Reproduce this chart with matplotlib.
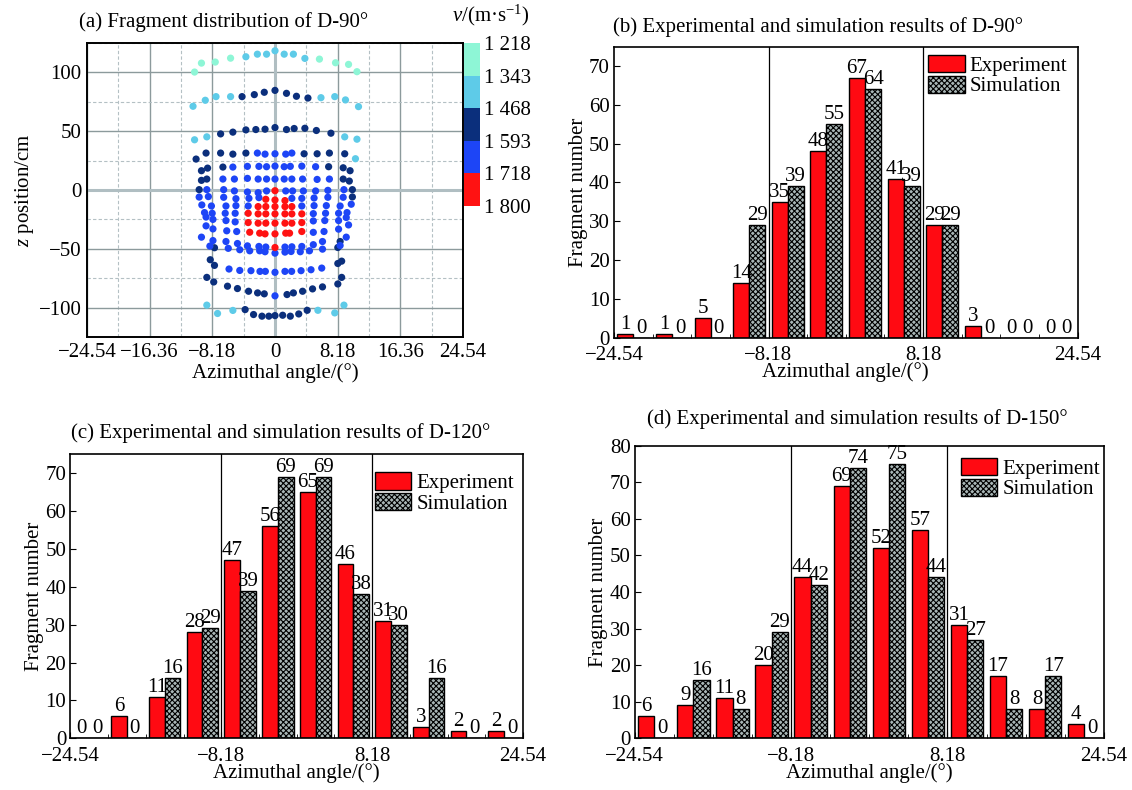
import numpy as np
import matplotlib
matplotlib.use("Agg")
import matplotlib.pyplot as plt
from matplotlib.colors import ListedColormap, BoundaryNorm
from matplotlib.colorbar import ColorbarBase
from matplotlib.ticker import MultipleLocator, FixedLocator

plt.rcParams['font.family'] = ['Liberation Serif', 'DejaVu Serif']
plt.rcParams['font.size'] = 15
plt.rcParams['mathtext.fontset'] = 'custom'
plt.rcParams['mathtext.rm'] = 'Liberation Serif'
plt.rcParams['mathtext.it'] = 'Liberation Serif:italic'
plt.rcParams['hatch.linewidth'] = 0.8
plt.rcParams['hatch.color'] = '#1a1a1a'

# ---- (a) fragment positions (azimuth deg, z cm), grouped by velocity band ----
pts_1218 = [(-10.5, 100.3), (-9.6, 107.9), (-7.8, 108.8), (-5.8, 112.1),
            (5.8, 111.3), (7.9, 108.2), (9.6, 106.8), (10.7, 100.6)]
pts_1343 = [(-3.8, 113.3), (-2.3, 115.5), (-1.1, 115.5), (0, 118.4), (1.2, 115.5), (2.4, 115.5), (3.9, 111.9),
            (-10.7, 71.2), (-9.1, 76.3), (-7.7, 79.4), (-5.8, 79.4), (6.0, 78.5), (7.8, 79.4), (9.2, 76.6), (10.9, 70.9),
            (-10.5, 42.7), (-8.9, 45.2), (9.1, 45.2), (10.7, 43.2), (10.5, 26.6),
            (-8.9, -97.9), (-7.5, -105), (-5.5, -102.4), (5.6, -102.3), (7.8, -104.5), (9.0, -97.9)]
pts_1468 = [(-4.3, 79.4), (-2.7, 81.1), (-1.4, 83.1), (0, 84.7), (1.5, 82.2), (2.8, 79.7), (4.3, 78.2),
            (-7.1, 47.7), (-5.5, 49.2), (-3.8, 51.1), (-2.5, 51.4), (-1.3, 51.7), (0, 53.1), (1.5, 51.4),
            (2.5, 52.3), (3.9, 52.5), (5.4, 50.6), (7.3, 48.3),
            (-10.3, 26.3), (-9.0, 31.4), (-7.1, 31.4), (-5.5, 30.5), (-3.8, 31.4), (3.8, 30.8), (5.5, 30.8),
            (7.1, 31.4), (9.1, 30.8),
            (-9.6, 16.4), (-8.8, 18.6), (-6.8, 19.5), (7.0, 19.8), (8.9, 18.9), (9.8, 16.4),
            (-9.6, 8.2), (-8.9, 9.3), (8.9, 9.3), (9.7, 7.6),
            (-9.9, 0.3), (10.1, 0.3), (10.1, -5.9),
            (-7.9, -49.1), (8.5, -43.8), (8.2, -48.9),
            (-8.45, -59.3), (-7.9, -64.1), (8.7, -60.5), (8.2, -62.5),
            (-8.9, -74.3), (-8.0, -78.2), (-6.2, -81.8), (-4.9, -83.8), (-3.45, -86.1), (-2.27, -87.5),
            (-1.4, -88.3), (1.57, -88.9), (2.4, -87.5), (3.6, -86.1), (4.9, -84.1), (6.2, -82.4),
            (8.2, -79.9), (8.7, -74.3),
            (-3.9, -101.7), (-2.8, -105.9), (-1.7, -107.3), (-0.8, -107.3), (0, -106.8), (1.0, -106.5),
            (2.0, -107.3), (3.1, -105.4), (4.2, -102.3)]
pts_1593 = [(-2.3, 31.4), (-1.3, 30.5), (0, 30.8), (1.4, 30.5), (2.2, 31.4),
            (-5.5, 19.5), (-3.6, 20.1), (-2.1, 20.1), (-1.1, 19.8), (0, 20.3), (1.2, 19.8), (2.0, 20.1),
            (3.5, 20.3), (5.3, 19.8),
            (-6.8, 9.3), (-5.3, 9.3), (-3.6, 9.9), (-2.2, 9.3), (-1.1, 9.3), (0, 9.3), (1.2, 9.3), (2.2, 9.3),
            (3.6, 9.3), (5.5, 9.0), (7.1, 9.3),
            (-8.9, 0.3), (-6.7, 0.3), (-5.3, -0.8), (-3.6, -1.7), (-2.2, -2.3), (-1.1, -0.8), (1.4, -0.8),
            (2.3, -0.8), (3.7, -0.8), (5.3, -0.8), (6.9, -0.3), (9.0, 0.3),
            (-9.9, -6.0), (-8.7, -5.6), (-6.7, -6.2), (-5.1, -7.4), (-3.4, -7.1), (-2.1, -6.5), (2.2, -7.1),
            (3.5, -7.1), (5.1, -6.8), (6.9, -6.2), (8.9, -6.2),
            (-9.55, -12.7), (-8.3, -13.6), (-6.4, -13.6), (-5.1, -13.3), (-3.5, -13.6), (3.5, -13.6),
            (5.1, -13.3), (6.7, -13.3), (8.5, -13.6), (9.95, -12.1),
            (-9.2, -19.2), (-8.2, -19.8), (-6.5, -19.8), (-5.2, -19.8), (5.0, -20.1), (6.6, -19.8),
            (8.3, -19.8), (9.4, -19.2), (-9.0, -23.0), (9.3, -23.4),
            (-8.1, -25.0), (-6.4, -26.0), (-5.2, -27.1), (5.0, -26.3), (6.5, -26.0), (8.3, -26.0),
            (-9.0, -30.5), (9.6, -29.7),
            (-8.1, -33.1), (-6.3, -34.7), (-5.0, -35.3), (5.0, -36.0), (6.4, -35.3), (8.3, -33.3),
            (-9.6, -40.1), (9.3, -40.1), (-8.1, -43.0),
            (-6.4, -43.8), (-4.9, -45.5), (-3.6, -47.5), (-2.1, -48.0), (-1.2, -48.5), (1.3, -48.5),
            (2.2, -48.3), (3.5, -48.0), (5.0, -46.5), (6.2, -43.8),
            (-8.5, -47.7), (-6.1, -49.6), (-4.6, -50.8), (-3.3, -51.7), (-2.0, -51.7), (-1.3, -52.5),
            (0, -53.7), (1.3, -52.8), (2.1, -52.3), (3.3, -52.5), (4.5, -51.7), (6.2, -50.3), (8.5, -47.2),
            (-6.0, -67.2), (-4.6, -68.4), (-3.14, -68.6), (-1.96, -69.2), (-1.26, -69.2), (0, -70.0),
            (1.3, -69.2), (2.17, -69.2), (3.4, -68.6), (4.7, -67.8), (6.1, -66.4),
            (0, -90.0)]
pts_1718 = [(0, -0.6),
            (-1.2, -7.9), (0, -8.5), (1.3, -9.0),
            (-2.2, -14.1), (-1.2, -14.1), (0, -14.1), (1.3, -14.1), (2.2, -14.1),
            (-3.5, -19.8), (-2.2, -20.3), (-1.2, -20.3), (0, -20.3), (1.3, -20.3), (2.2, -20.3), (3.5, -20.3),
            (-3.5, -27.7), (-2.2, -28.2), (-1.2, -28.2), (0, -28.2), (1.3, -28.2), (2.2, -28.2), (3.5, -27.7),
            (-3.3, -35.9), (-2.0, -36.7), (-1.3, -37.3), (0, -37.3), (1.4, -36.7), (1.9, -36.7), (3.5, -35.3),
            (0, -48.9)]
# representative speed of each band (m/s)
band_speed = [1280, 1405, 1530, 1655, 1760]
v_bounds = [1218, 1343, 1468, 1593, 1718, 1800]
v_labels = ['1 218', '1 343', '1 468', '1 593', '1 718', '1 800']
band_colors = ['#8ef6d6', '#5ecbe8', '#0b2f7c', '#1d45f6', '#ff1212']

# ---- (b)(c)(d) histogram counts per azimuth bin ----
n_bins = 12
exp_90 = [1, 1, 5, 14, 35, 48, 67, 41, 29, 3, 0, 0]
sim_90 = [0, 0, 0, 29, 39, 55, 64, 39, 29, 0, 0, 0]
exp_120 = [0, 6, 11, 28, 47, 56, 65, 46, 31, 3, 2, 2]
sim_120 = [0, 0, 16, 29, 39, 69, 69, 38, 30, 16, 0, 0]
exp_150 = [6, 9, 11, 20, 44, 69, 52, 57, 31, 17, 8, 4]
sim_150 = [0, 16, 8, 29, 42, 74, 75, 44, 27, 8, 17, 0]

lim = 24.54
red = '#ff0a12'
grey = '#a9b6b6'

W, H = 1132, 790
fig = plt.figure(figsize=(W / 100, H / 100), dpi=100)


def px_axes(l, t, r, b):
    return fig.add_axes([l / W, 1 - b / H, (r - l) / W, (b - t) / H])


# ---------------- panel (a) ----------------
cmap = ListedColormap(band_colors)
norm = BoundaryNorm(v_bounds, cmap.N)
ax = px_axes(87, 43, 463, 337)
ax.set_xlim(-lim, lim)
ax.set_ylim(-125, 125)
ax.xaxis.set_major_locator(FixedLocator([-24.54, -16.36, -8.18, 0, 8.18, 16.36, 24.54]))
ax.set_xticklabels(['\u221224.54', '\u221216.36', '\u22128.18', '0', '8.18', '16.36', '24.54'])
ax.xaxis.set_minor_locator(MultipleLocator(4.09))
ax.yaxis.set_major_locator(FixedLocator([-100, -50, 0, 50, 100]))
ax.set_yticklabels(['\u2212100', '\u221250', '0', '50', '100'])
ax.yaxis.set_minor_locator(MultipleLocator(25))
ax.grid(which='major', color='#8c9a9c', lw=1.0, ls='-')
ax.grid(which='minor', color='#b4c0c4', lw=0.8, ls=(0, (3, 2)))
ax.axvline(0, color='#b0bec2', lw=2.2, zorder=1)
ax.axhline(0, color='#b0bec2', lw=2.2, zorder=1)
ax.set_axisbelow(True)
ax.tick_params(which='both', direction='in', length=0, pad=4)
for s in ax.spines.values():
    s.set_linewidth(1.4)
for pts, sp in zip([pts_1218, pts_1343, pts_1468, pts_1593, pts_1718], band_speed):
    arr = np.array(pts)
    ax.scatter(arr[:, 0], arr[:, 1], c=[sp] * len(arr), cmap=cmap, norm=norm,
               s=27, linewidths=0, zorder=3)
ax.set_xlabel('Azimuthal angle/(\u00b0)', labelpad=1)
ax.set_ylabel('$z$ position/cm', labelpad=2)
fig.text(79 / W, 1 - 22 / H, '(a) Fragment distribution of D-90\u00b0', ha='left', va='center')

cax = px_axes(464, 43, 480, 206)
cb = ColorbarBase(cax, cmap=cmap, norm=norm, boundaries=v_bounds, spacing='uniform',
                  ticks=v_bounds, orientation='vertical')
cb.outline.set_visible(False)
cb.set_ticklabels(v_labels)
cax.invert_yaxis()
cax.tick_params(length=0, pad=3)
fig.text(491 / W, 1 - 15 / H, '$v$/(m\u00b7s$^{-1}$)', ha='center', va='center')

# ---------------- bar panels ----------------
edges = np.linspace(-lim, lim, n_bins + 1)
centers = (edges[:-1] + edges[1:]) / 2
bw = 1.7


def bar_panel(box, exp, sim, ymax, title, title_xy, anchor):
    ax = px_axes(*box)
    ax.set_xlim(-lim, lim)
    ax.set_ylim(0, ymax)
    for xv in (-8.18, 8.18):
        ax.axvline(xv, color='k', lw=0.9, zorder=1)
    b1 = ax.bar(centers - bw / 2, exp, bw, color=red, edgecolor='k', lw=1.0,
                label='Experiment', zorder=2)
    b2 = ax.bar(centers + bw / 2, sim, bw, color=grey, edgecolor='k', lw=1.0,
                hatch='xxxxxx', label='Simulation', zorder=2)
    ax.bar_label(b1, padding=0)
    ax.bar_label(b2, padding=0)
    ax.xaxis.set_major_locator(FixedLocator([-24.54, -8.18, 8.18, 24.54]))
    ax.set_xticklabels(['\u221224.54', '\u22128.18', '8.18', '24.54'])
    ax.xaxis.set_minor_locator(MultipleLocator(4.09))
    ax.yaxis.set_major_locator(MultipleLocator(10))
    ax.tick_params(which='major', direction='in', length=4, pad=3)
    ax.tick_params(axis='x', which='major', pad=6)
    ax.tick_params(which='minor', direction='in', length=3)
    for s in ax.spines.values():
        s.set_linewidth(1.2)
    ax.set_xlabel('Azimuthal angle/(\u00b0)', labelpad=-2)
    ax.set_ylabel('Fragment number', labelpad=1)
    ax.legend(loc='upper right', bbox_to_anchor=anchor, frameon=False, borderpad=0,
              borderaxespad=0, handlelength=1.75, handleheight=0.9, labelspacing=0.0,
              handletextpad=0.25)
    fig.text(title_xy[0] / W, 1 - title_xy[1] / H, title, ha='center', va='center')
    return ax


bar_panel((614, 46.7, 1077.5, 337.7), exp_90, sim_90, 75,
          '(b) Experimental and simulation results of D-90\u00b0', (818, 27),
          (1 - 10 / 463, 1 - 8 / 291))
bar_panel((70.4, 454.3, 523, 738.3), exp_120, sim_120, 75,
          '(c) Experimental and simulation results of D-120\u00b0', (281, 433),
          (1 - 9 / 452, 1 - 18 / 284))
bar_panel((634.8, 445.7, 1103.8, 738.3), exp_150, sim_150, 80,
          '(d) Experimental and simulation results of D-150\u00b0', (857, 419),
          (1 - 4 / 469, 1 - 12 / 292))

fig.savefig('out.png', dpi=100)
